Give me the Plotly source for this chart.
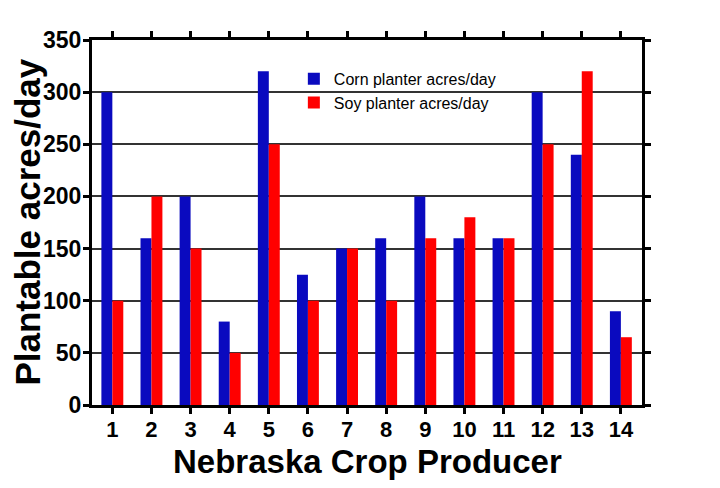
import plotly.graph_objects as go

producers = list(range(1, 15))
corn = [300, 160, 200, 80, 320, 125, 150, 160, 200, 160, 160, 300, 240, 90]
soy = [100, 200, 150, 50, 250, 100, 150, 100, 160, 180, 160, 250, 320, 65]
y_ticks = [0, 50, 100, 150, 200, 250, 300, 350]

FONT = "Liberation Sans, Arial, sans-serif"

fig = go.Figure()
fig.add_trace(go.Bar(x=producers, y=corn, name="Corn planter acres/day",
                     marker=dict(color="#0A0ABF", line=dict(width=0)), legendgroup="a"))
fig.add_trace(go.Bar(x=producers, y=soy, name="Soy planter acres/day",
                     marker=dict(color="#FF0000", line=dict(width=0)), legendgroup="b"))

fig.update_layout(
    width=720, height=488,
    margin=dict(l=92, r=78, t=40, b=83),
    paper_bgcolor="white", plot_bgcolor="white",
    barmode="group", bargap=0.44, bargroupgap=0,
    font=dict(family=FONT, color="black"),
    legend=dict(x=0.367, y=0.94, xanchor="left", yanchor="top",
                font=dict(size=16, family=FONT), bgcolor="rgba(0,0,0,0)",
                tracegroupgap=0),
    showlegend=True,
    annotations=[
        dict(text="<b>Plantable acres/day</b>", textangle=-90,
             xref="paper", yref="paper", x=-0.118, y=0.5,
             xanchor="center", yanchor="middle", showarrow=False,
             font=dict(size=35, family=FONT, color="black")),
        dict(text="<b>Nebraska Crop Producer</b>",
             xref="paper", yref="paper", x=0.5, y=-0.155,
             xanchor="center", yanchor="middle", showarrow=False,
             font=dict(size=33, family=FONT, color="black")),
    ],
)
fig.update_xaxes(
    range=[0.48, 14.54], tickmode="array", tickvals=producers,
    ticktext=[str(p) for p in producers],
    showline=True, linewidth=3, linecolor="black", mirror="ticks",
    ticks="outside", ticklen=6, tickwidth=3, tickcolor="black",
    tickfont=dict(size=22, family=FONT, weight="bold"),
    ticklabelstandoff=-3,
    showgrid=False, zeroline=False,
)
fig.update_yaxes(
    range=[0, 350], tickmode="array", tickvals=y_ticks,
    showline=True, linewidth=3, linecolor="black", mirror="ticks",
    ticks="outside", ticklen=6, tickwidth=3, tickcolor="black",
    tickfont=dict(size=23, family=FONT, weight="bold"),
    ticklabelstandoff=-3,
    showgrid=True, gridcolor="#333333", gridwidth=1.5, zeroline=False,
)

fig.write_html("out.html")
